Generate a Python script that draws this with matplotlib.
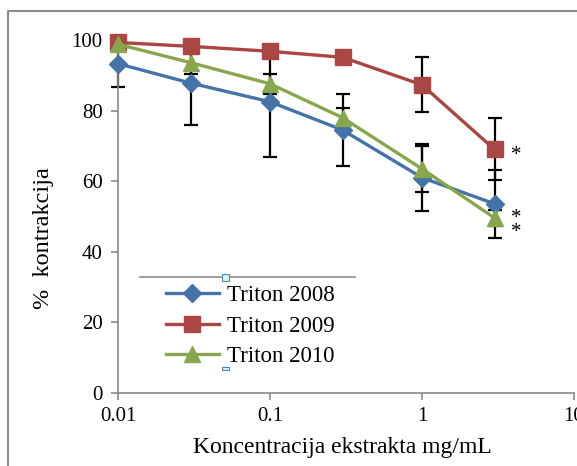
import matplotlib
matplotlib.use("Agg")
import matplotlib.pyplot as plt
from matplotlib.patches import Rectangle
from matplotlib.lines import Line2D

plt.rcParams['font.family'] = ['Liberation Serif', 'DejaVu Serif']

conc = [0.01, 0.03, 0.1, 0.3, 1, 3]
t2008 = [93.3, 87.8, 82.5, 74.5, 61.0, 53.6]
t2008_err = [6.7, 12.0, 15.7, 10.3, 9.5, 9.7]
t2009 = [99.3, 98.2, 96.8, 95.1, 87.3, 69.0]
t2009_err = [0.5, 0.6, 0.8, 1.0, 7.8, 8.8]
t2010 = [98.8, 93.6, 87.6, 78.0, 63.5, 49.6]
t2010_err = [0.8, 3.2, 2.9, 2.7, 6.5, 2.3]
labels = ['Triton 2008', 'Triton 2009', 'Triton 2010']
colors = ['#4572A7', '#AA4643', '#89A54E']
markers = ['D', 's', '^']
msizes = [9.5, 11, 11.5]
yticks = [0, 20, 40, 60, 80, 100]
xticks = [0.01, 0.1, 1, 10]
xticklabels = ['0.01', '0.1', '1', '10']
star_y = [67.3, 49.3, 45.4]

fig = plt.figure(figsize=(5.77, 4.66), dpi=100)
ax = fig.add_axes([118/577, 1-393/466, (574-118)/577, (393-40)/466])

series = [(t2008, t2008_err), (t2009, t2009_err), (t2010, t2010_err)]
for (vals, errs) in series:
    ax.errorbar(conc, vals, yerr=errs, fmt='none', ecolor='black',
                elinewidth=1.6, capsize=5, capthick=1.6, zorder=2, clip_on=False)
handles = []
for (vals, errs), lab, c, m, ms in zip(series, labels, colors, markers, msizes):
    h, = ax.plot(conc, vals, color=c, lw=2.4, marker=m, ms=ms, mfc=c, mec=c,
                 label=lab, zorder=3, clip_on=False)
    handles.append(h)

for y in star_y:
    ax.text(4.15, y, '*', ha='center', va='center', fontsize=15, color='black')

ax.set_xscale('log')
ax.set_xlim(0.01, 10)
ax.set_ylim(0, 100)
ax.set_xticks(xticks)
ax.set_xticklabels(xticklabels)
ax.minorticks_off()
ax.set_yticks(yticks)
for s in ['top', 'right']:
    ax.spines[s].set_visible(False)
for s in ['left', 'bottom']:
    ax.spines[s].set_color('#898989')
    ax.spines[s].set_linewidth(1.2)
ax.tick_params(axis='both', colors='#898989', labelcolor='black', labelsize=15,
               length=5, width=1.2, direction='out')
ax.tick_params(axis='x', pad=5)
ax.tick_params(axis='y', pad=6)

ax.set_xlabel('Koncentracija ekstrakta mg/mL', fontsize=17, va='center')
ax.xaxis.set_label_coords((342-118)/456, -(447-393)/353)
ax.set_ylabel('%  kontrakcija', fontsize=17.5, va='center')
ax.yaxis.set_label_coords(-(118-44)/456, (393-238)/353)

leg = ax.legend(handles=handles, loc='upper left', bbox_to_anchor=(166/577, 1-285/466),
                bbox_transform=fig.transFigure, frameon=False, fontsize=16.5,
                handlelength=2.3, handletextpad=0.35, labelspacing=0.42,
                borderpad=0, borderaxespad=0)

# selected-legend artifacts and outer frame
fig.add_artist(Line2D([140/577, 355/577], [1-277/466, 1-277/466], transform=fig.transFigure,
                      color='#8c8c8c', lw=1.2))
fig.add_artist(Rectangle((222/577, 1-280.5/466), 7/577, 7/466, transform=fig.transFigure,
                         facecolor='#dff2fb', edgecolor='#4a86b8', lw=0.8, zorder=5))
fig.add_artist(Rectangle((222/577, 1-369.5/466), 7/577, 3/466, transform=fig.transFigure,
                         facecolor='#dff2fb', edgecolor='#4a86b8', lw=0.8, zorder=5))
fig.add_artist(Line2D([8/577, 8/577, 1.0], [0, 1-11/466, 1-11/466], transform=fig.transFigure,
                      color='#8c8c8c', lw=1.5))

fig.savefig('out.png', dpi=100)
